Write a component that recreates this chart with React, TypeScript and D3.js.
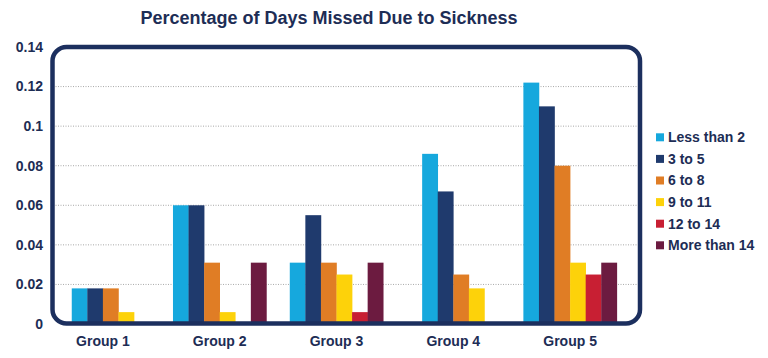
import * as d3 from "d3";

const groups = ["Group 1", "Group 2", "Group 3", "Group 4", "Group 5"];
const seriesNames = ["Less than 2", "3 to 5", "6 to 8", "9 to 11", "12 to 14", "More than 14"];
const seriesColors = ["#16a8dd", "#1f3a6d", "#e07d25", "#fdd20a", "#c81f33", "#6c1b40"];

// values per group, one per series (same order as seriesNames)
const group1 = [0.018, 0.018, 0.018, 0.006, 0, 0];
const group2 = [0.06, 0.06, 0.031, 0.006, 0, 0.031];
const group3 = [0.031, 0.055, 0.031, 0.025, 0.006, 0.031];
const group4 = [0.086, 0.067, 0.025, 0.018, 0, 0];
const group5 = [0.122, 0.11, 0.08, 0.031, 0.025, 0.031];
const values = [group1, group2, group3, group4, group5];

const yTicks = [0, 0.02, 0.04, 0.06, 0.08, 0.1, 0.12, 0.14];

const W = 768;
const H = 358;
const navy = "#1d2d55";
const font = "'Liberation Sans', Arial, sans-serif";

export default function App() {
  const box = { left: 52.5, top: 47, right: 640, bottom: 323.5 };

  const y = d3.scaleLinear().domain([0, 0.14]).range([324, 47]);
  const x = d3.scaleBand().domain(groups).range([44.5, 628.5]).padding(0);
  const barW = (x.bandwidth() * 0.8) / seriesNames.length;

  const bars = [];
  values.forEach((vals, gi) => {
    // only lay out slots up to the last series that has a value
    let slots = 0;
    vals.forEach((v, i) => {
      if (v > 0) slots = i + 1;
    });
    const center = x(groups[gi])! + x.bandwidth() / 2;
    const start = center - (slots * barW) / 2;
    vals.forEach((v, si) => {
      if (v <= 0) return;
      bars.push(
        <rect
          key={`${gi}-${si}`}
          x={start + si * barW}
          y={y(v)}
          width={barW + 0.3}
          height={y(0) - y(v)}
          fill={seriesColors[si]}
        />
      );
    });
  });

  return (
    <svg
      width={W}
      height={H}
      style={{ position: "fixed", left: 0, top: 0, background: "#fff" }}
      fontFamily={font}
    >
      <rect width={W} height={H} fill="#fff" />
      <text
        x={329}
        y={24}
        textAnchor="middle"
        fontSize={18}
        fontWeight="bold"
        fill={navy}
      >
        Percentage of Days Missed Due to Sickness
      </text>

      {yTicks
        .filter((t) => t > 0 && t < 0.14)
        .map((t) => (
          <line
            key={t}
            x1={box.left + 3}
            x2={box.right - 3}
            y1={y(t)}
            y2={y(t)}
            stroke="#a9a9a9"
            strokeWidth={1}
            strokeDasharray="1 1.5"
          />
        ))}

      {bars}

      <rect
        x={box.left}
        y={box.top}
        width={box.right - box.left}
        height={box.bottom - box.top}
        rx={14}
        fill="none"
        stroke="#1c2f5e"
        strokeWidth={4.5}
      />

      {yTicks.map((t) => (
        <text
          key={t}
          x={43}
          y={y(t)}
          dy="0.35em"
          textAnchor="end"
          fontSize={14}
          fontWeight="bold"
          fill={navy}
        >
          {d3.format("~g")(t)}
        </text>
      ))}

      {groups.map((g) => (
        <text
          key={g}
          x={x(g)! + x.bandwidth() / 2}
          y={341}
          dy="0.35em"
          textAnchor="middle"
          fontSize={14}
          fontWeight="bold"
          fill={navy}
        >
          {g}
        </text>
      ))}

      {seriesNames.map((s, i) => (
        <g key={s} transform={`translate(656,${137.3 + i * 21.6})`}>
          <rect x={0} y={-4} width={8} height={8} fill={seriesColors[i]} />
          <text x={12} y={0} dy="0.35em" fontSize={14} fontWeight="bold" fill={navy}>
            {s}
          </text>
        </g>
      ))}
    </svg>
  );
}
